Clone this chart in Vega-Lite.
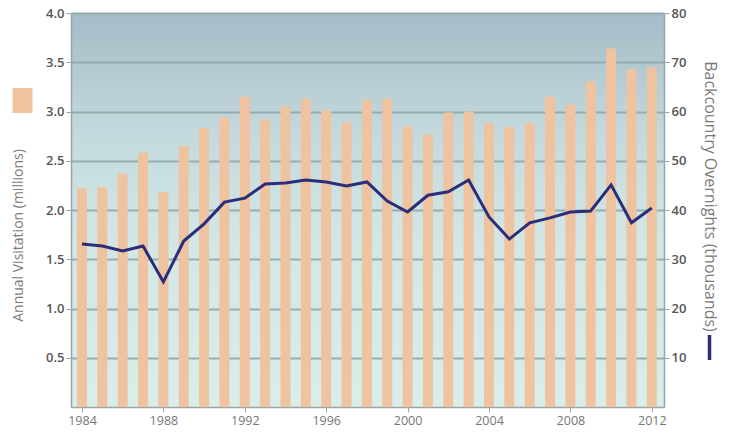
{
  "$schema": "https://vega.github.io/schema/vega-lite/v6.json",
  "width": 593,
  "height": 394,
  "autosize": "none",
  "padding": {"left": 71, "top": 13, "right": 65, "bottom": 27},
  "background": "white",
  "config": {
    "view": {
      "stroke": null,
      "fill": {"gradient": "linear", "x1": 0, "y1": 0, "x2": 0, "y2": 1,
        "stops": [
          {"offset": 0, "color": "#a5bbc6"},
          {"offset": 0.3, "color": "#c4d9dd"},
          {"offset": 0.6, "color": "#d3e8e5"},
          {"offset": 1, "color": "#d9eee9"}
        ]}
    },
    "font": "Open Sans",
    "axis": {
      "labelFont": "Open Sans",
      "titleFont": "Open Sans",
      "labelColor": "#555555",
      "titleColor": "#7a7a7a",
      "domainColor": "#9aa5a8",
      "tickColor": "#9aa5a8"
    }
  },
  "data": {
    "values": [
      {"year": 1984, "visits": 2.22, "overnights": 33.1},
      {"year": 1985, "visits": 2.23, "overnights": 32.7},
      {"year": 1986, "visits": 2.37, "overnights": 31.7},
      {"year": 1987, "visits": 2.58, "overnights": 32.7},
      {"year": 1988, "visits": 2.18, "overnights": 25.4},
      {"year": 1989, "visits": 2.65, "overnights": 33.7},
      {"year": 1990, "visits": 2.83, "overnights": 37.2},
      {"year": 1991, "visits": 2.94, "overnights": 41.6},
      {"year": 1992, "visits": 3.15, "overnights": 42.4},
      {"year": 1993, "visits": 2.92, "overnights": 45.3},
      {"year": 1994, "visits": 3.05, "overnights": 45.5},
      {"year": 1995, "visits": 3.13, "overnights": 46.1},
      {"year": 1996, "visits": 3.01, "overnights": 45.7},
      {"year": 1997, "visits": 2.89, "overnights": 44.9},
      {"year": 1998, "visits": 3.12, "overnights": 45.7},
      {"year": 1999, "visits": 3.13, "overnights": 41.8},
      {"year": 2000, "visits": 2.85, "overnights": 39.6},
      {"year": 2001, "visits": 2.77, "overnights": 43.0},
      {"year": 2002, "visits": 2.99, "overnights": 43.7},
      {"year": 2003, "visits": 3.00, "overnights": 46.1},
      {"year": 2004, "visits": 2.88, "overnights": 38.6},
      {"year": 2005, "visits": 2.84, "overnights": 34.1},
      {"year": 2006, "visits": 2.88, "overnights": 37.4},
      {"year": 2007, "visits": 3.15, "overnights": 38.4},
      {"year": 2008, "visits": 3.07, "overnights": 39.6},
      {"year": 2009, "visits": 3.31, "overnights": 39.8},
      {"year": 2010, "visits": 3.64, "overnights": 45.1},
      {"year": 2011, "visits": 3.43, "overnights": 37.4},
      {"year": 2012, "visits": 3.45, "overnights": 40.4}
    ]
  },
  "encoding": {
    "x": {
      "field": "year", "type": "quantitative",
      "scale": {"domain": [1983.46, 2012.6], "nice": false, "zero": false, "padding": 0},
      "axis": {
        "title": null, "values": [1984, 1988, 1992, 1996, 2000, 2004, 2008, 2012],
        "format": "d", "grid": false, "labelFontSize": 12.5, "labelColor": "#777777",
        "tickSize": 5, "labelPadding": 2, "domainWidth": 1.5
      }
    }
  },
  "layer": [
    {
      "mark": {"type": "bar", "width": 10},
      "encoding": {
        "y": {
          "field": "visits", "type": "quantitative",
          "scale": {"domain": [0, 4], "nice": false},
          "axis": {
            "title": "Annual Visitation (millions)",
            "values": [0.5, 1, 1.5, 2, 2.5, 3, 3.5, 4], "format": ".1f",
            "grid": true, "gridColor": "#8ea9aa", "gridWidth": 2, "gridOpacity": 0.9,
            "labelFontSize": 13, "labelFontWeight": 600, "labelColor": "#555555",
            "tickSize": 5, "domainWidth": 1.5,
            "titleFontSize": 14, "titleFontWeight": "normal", "titleY": 222, "titleX": -46
          }
        },
        "color": {
          "datum": "Annual Visitation",
          "scale": {"range": ["#efc3a0"]},
          "legend": {
            "orient": "none", "legendX": -61, "legendY": 75, "title": null,
            "labelExpr": "''", "symbolType": "M-0.8,-1H0.8V1H-0.8Z", "symbolSize": 625,
            "padding": 0, "symbolStrokeWidth": 0, "symbolOpacity": 1
          }
        }
      }
    },
    {
      "mark": {"type": "line", "strokeWidth": 3, "color": "#2a2d78"},
      "encoding": {
        "y": {
          "field": "overnights", "type": "quantitative",
          "scale": {"domain": [0, 80], "nice": false},
          "axis": {
            "orient": "right",
            "title": "Backcountry Overnights (thousands)",
            "values": [10, 20, 30, 40, 50, 60, 70, 80], "format": "d",
            "grid": false,
            "labelFontSize": 13, "labelFontWeight": 600, "labelColor": "#555555",
            "tickSize": 5, "domainWidth": 1.5,
            "titleFontSize": 16, "titleFontWeight": "normal", "titleAngle": 90,
            "titleY": 183, "titleX": 37
          }
        },
        "stroke": {
          "datum": "Backcountry",
          "scale": {"range": ["#2a2d78"]},
          "legend": {
            "orient": "none", "legendX": 624, "legendY": 320, "title": null,
            "labelExpr": "''", "symbolType": "M0,-1L0,1", "symbolSize": 625,
            "symbolStrokeWidth": 3.5, "padding": 0
          }
        }
      }
    }
  ],
  "resolve": {"scale": {"y": "independent"}, "legend": {"color": "independent", "stroke": "independent"}}
}
